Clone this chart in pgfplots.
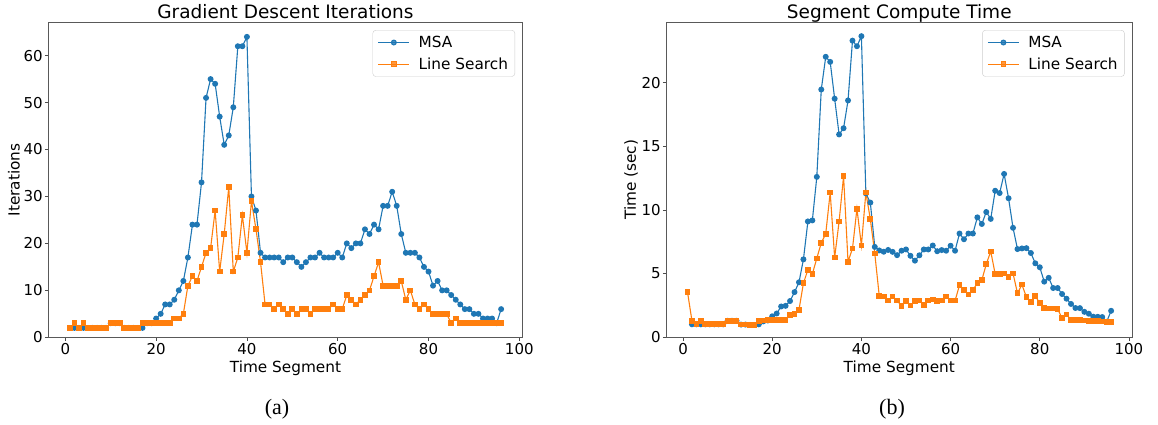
\documentclass[border=0pt]{standalone}
\usepackage{fontspec}
\setmainfont{DejaVu Sans}
\newfontfamily\capfont{Liberation Serif}
\usepackage{pgfplots}
\usepackage{pgfplotstable}
\pgfplotsset{compat=1.18}

\definecolor{mplblue}{HTML}{1F77B4}
\definecolor{mplorange}{HTML}{FF7F0E}

% Gradient descent iterations per time segment
\pgfplotstableread{
x msa ls
1 nan 2
2 2 3
3 2 2
4 2 3
5 2 2
6 2 2
7 2 2
8 2 2
9 2 2
10 3 3
11 3 3
12 3 3
13 2 2
14 2 2
15 2 2
16 2 2
17 2 3
18 3 3
19 3 3
20 4 3
21 5 3
22 7 3
23 7 3
24 8 4
25 10 4
26 12 5
27 17 11
28 24 13
29 24 12
30 33 15
31 51 18
32 55 19
33 54 27
34 47 14
35 41 22
36 43 32
37 49 14
38 62 17
39 62 26
40 64 18
41 30 29
42 27 23
43 18 16
44 17 7
45 17 7
46 17 6
47 17 7
48 16 6
49 17 5
50 17 6
51 16 5
52 15 6
53 16 6
54 17 5
55 17 6
56 18 6
57 17 6
58 17 6
59 17 7
60 18 6
61 17 6
62 20 9
63 19 8
64 20 7
65 20 8
66 23 9
67 22 10
68 24 13
69 23 16
70 28 11
71 28 11
72 31 11
73 28 11
74 22 12
75 18 8
76 18 10
77 18 7
78 17 6
79 15 7
80 14 6
81 11 5
82 12 5
83 10 5
84 10 5
85 9 3
86 8 4
87 7 3
88 6 3
89 6 3
90 5 3
91 5 3
92 4 3
93 4 3
94 4 3
95 3 3
96 6 3
}\itertable

% Compute time per time segment (seconds)
\pgfplotstableread{
x msa ls
1 nan 3.56
2 1.02 1.30
3 1.02 1.02
4 1.02 1.30
5 1.02 1.02
6 1.02 1.02
7 1.02 1.02
8 1.02 1.02
9 1.02 1.02
10 1.30 1.30
11 1.30 1.30
12 1.30 1.30
13 1.00 1.00
14 1.00 1.00
15 0.97 0.97
16 0.97 0.97
17 1.02 1.28
18 1.25 1.33
19 1.32 1.34
20 1.65 1.34
21 1.87 1.34
22 2.42 1.34
23 2.47 1.36
24 2.85 1.73
25 3.55 1.83
26 4.32 2.15
27 6.12 4.25
28 9.10 5.30
29 9.18 4.97
30 12.60 6.20
31 19.46 7.42
32 22.03 8.13
33 21.63 11.37
34 18.74 6.26
35 15.93 9.10
36 16.42 12.65
37 18.60 5.94
38 23.30 6.97
39 22.86 10.10
40 23.65 7.21
41 11.30 11.37
42 10.58 9.27
43 7.10 6.58
44 6.82 3.26
45 6.72 3.21
46 6.86 2.88
47 6.71 3.21
48 6.45 2.88
49 6.80 2.46
50 6.90 2.84
51 6.40 2.49
52 6.02 2.84
53 6.44 2.88
54 6.90 2.52
55 6.90 2.88
56 7.21 2.98
57 6.76 2.84
58 6.85 2.88
59 6.80 3.21
60 7.19 2.88
61 6.80 2.88
62 8.15 4.09
63 7.70 3.71
64 8.15 3.37
65 8.15 3.72
66 9.42 4.24
67 8.90 4.49
68 9.84 5.74
69 9.30 6.75
70 11.51 4.97
71 11.33 4.97
72 12.83 5.02
73 10.92 4.73
74 8.60 5.02
75 6.93 3.46
76 6.98 4.14
77 7.00 3.15
78 6.62 2.77
79 5.81 3.25
80 5.50 2.67
81 4.37 2.29
82 4.67 2.27
83 3.87 2.27
84 3.87 2.23
85 3.40 1.49
86 3.03 1.78
87 2.62 1.38
88 2.30 1.37
89 2.29 1.35
90 2.00 1.32
91 1.85 1.30
92 1.62 1.28
93 1.61 1.26
94 1.59 1.25
95 1.22 1.22
96 2.08 1.20
}\timetable

\pgfplotsset{
  panel/.style={
    scale only axis,
    anchor=south west,
    height=315pt,
    xmin=-3.75, xmax=100.75,
    ymin=0,
    xtick={0,20,...,100},
    tick align=outside,
    tick pos=left,
    major tick length=3.5pt,
    every tick/.style={black!70, line width=0.8pt},
    axis line style={black!65, line width=0.9pt},
    /pgf/number format/assume math mode=true,
    ticklabel style={font=\fontsize{15}{18}\selectfont, inner sep=2pt},
    label style={font=\fontsize{15.3}{18}\selectfont},
    title style={font=\fontsize{18.5}{22}\selectfont, at={(axis description cs:0.5,1)}, anchor=base, yshift=-2pt},
    xlabel style={at={(axis description cs:0.5,-0.1133)}, anchor=base},
    xlabel={Time Segment},
    legend cell align=left,
    legend style={at={(1,1)}, anchor=north east, xshift=-7.7pt, yshift=-7.8pt,
      draw=black!20, rounded corners=3pt, fill=white, fill opacity=0.8, text opacity=1,
      font=\fontsize{15.3}{18}\selectfont, inner xsep=5pt, inner ysep=4pt, row sep=5pt,
      nodes={inner sep=1.8pt},
      /tikz/every odd column/.append style={column sep=7pt}},
    legend image code/.code={
      \draw[mark repeat=2,mark phase=2,##1] plot coordinates {(0pt,0pt) (15.5pt,0pt) (31pt,0pt)};},
    msa/.style={mplblue, line width=1.1pt, mark=*, mark size=2.4pt, mark options={solid, fill=mplblue, draw=mplblue}},
    lsq/.style={mplorange, line width=1.1pt, mark=square*, mark size=2.3pt, mark options={solid, fill=mplorange, draw=mplorange}},
  }
}

\begin{document}
\begin{tikzpicture}
\path[use as bounding box] (0pt,0pt) rectangle (1158pt,425pt);

\begin{axis}[panel,
  at={(48.3pt,87.7pt)}, width=474.4pt,
  ymax=67.1,
  ytick={0,10,...,60},
  title={Gradient Descent Iterations},
  ylabel={Iterations},
  ylabel style={at={(axis description cs:-0.0723,0.5)}, anchor=center},
]
\addplot[msa] table[x=x, y=msa] {\itertable};
\addlegendentry{MSA}
\addplot[lsq] table[x=x, y=ls] {\itertable};
\addlegendentry{Line Search}
\end{axis}

\begin{axis}[panel,
  at={(666.3pt,87.7pt)}, width=466pt,
  ymax=24.74,
  ytick={0,5,...,20},
  title={Segment Compute Time},
  ylabel={Time (sec)},
  ylabel style={at={(axis description cs:-0.0757,0.5)}, anchor=center},
]
\addplot[msa] table[x=x, y=msa] {\timetable};
\addlegendentry{MSA}
\addplot[lsq] table[x=x, y=ls] {\timetable};
\addlegendentry{Line Search}
\end{axis}

\node[font=\capfont\fontsize{22}{26}\selectfont] at (277pt,16pt) {(a)};
\node[font=\capfont\fontsize{22}{26}\selectfont] at (892pt,16pt) {(b)};
\end{tikzpicture}
\end{document}
